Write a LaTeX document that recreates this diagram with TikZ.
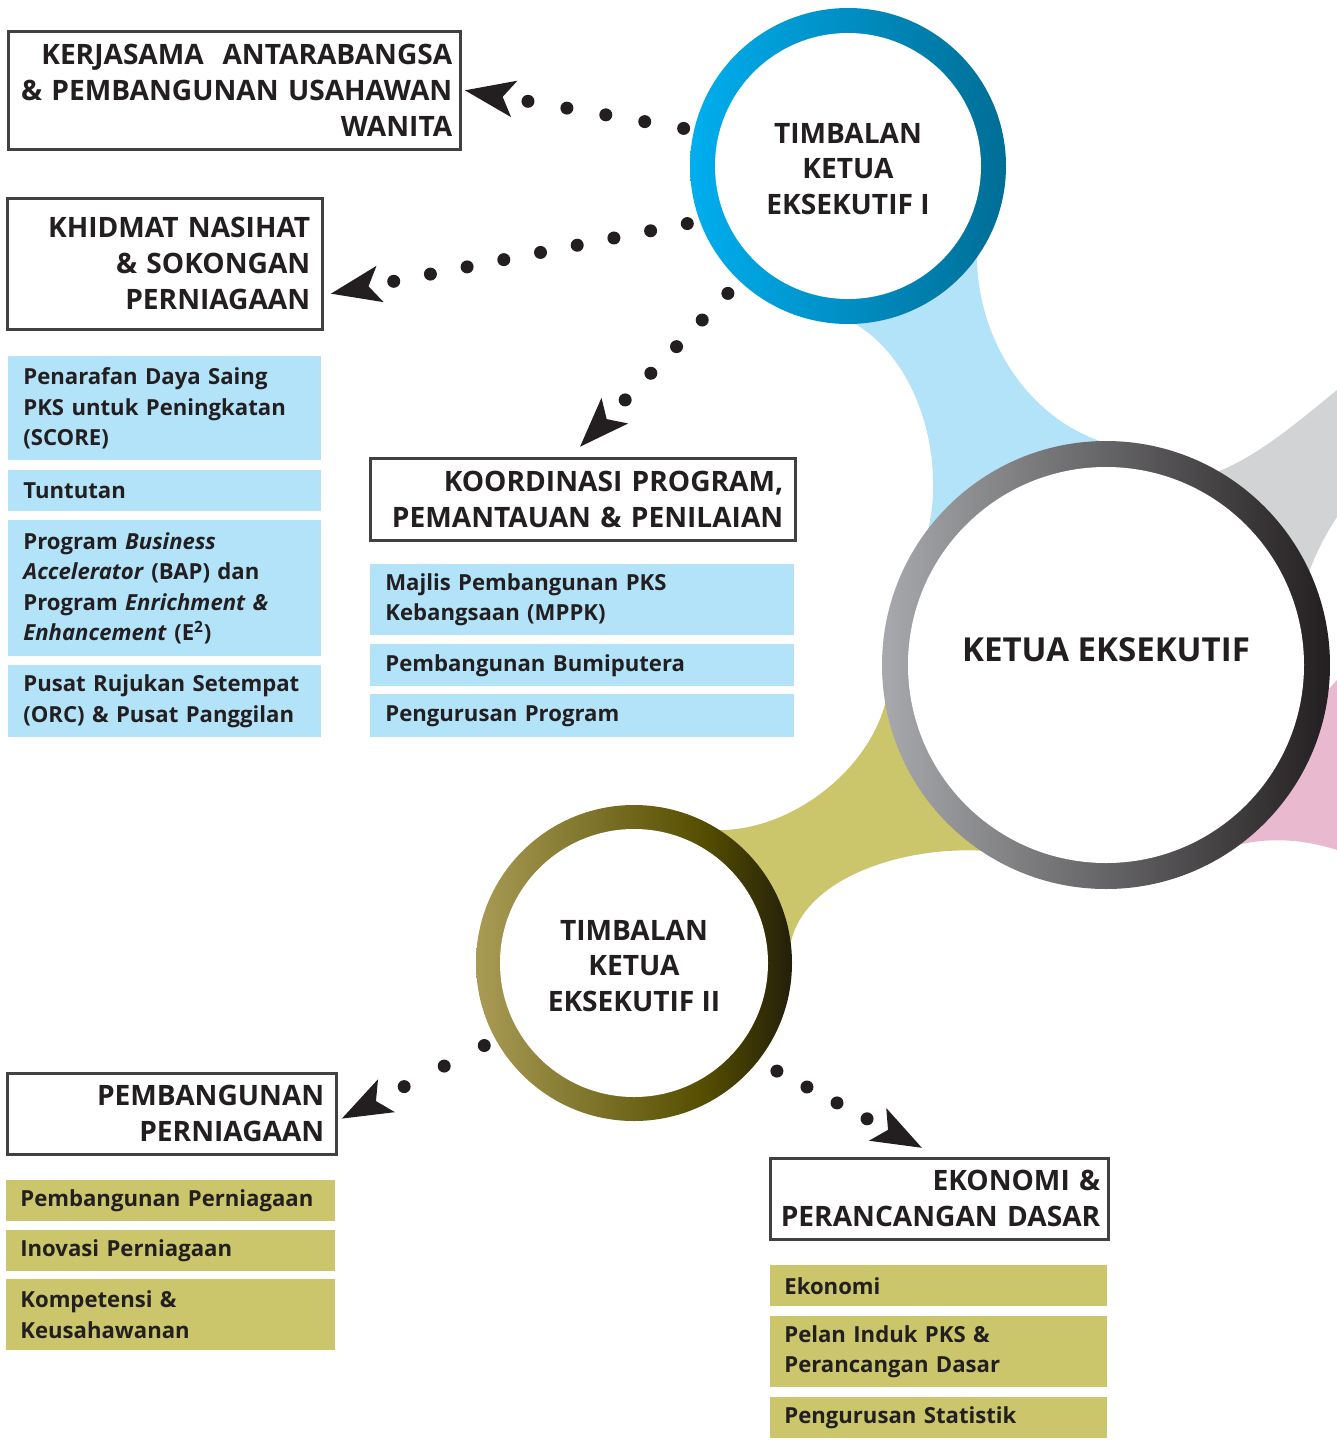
\documentclass[tikz,border=0pt]{standalone}
\usepackage{fontspec}
\setmainfont{Open Sans}
\usetikzlibrary{arrows.meta}
\usepackage{xcolor}

\definecolor{ink}{HTML}{231F20}
\definecolor{boxline}{HTML}{414042}
\definecolor{itemblue}{HTML}{B3E3F9}
\definecolor{itemolive}{HTML}{CBC66B}
\definecolor{blobgrey}{HTML}{D1D3D4}
\definecolor{blobpink}{HTML}{E8B9CF}
\definecolor{tkeA}{HTML}{00AEEF}
\definecolor{tkeB}{HTML}{006E96}
\definecolor{keA}{HTML}{A7A9AC}
\definecolor{keB}{HTML}{231F20}
\definecolor{olvA}{HTML}{A99B55}
\definecolor{olvB}{HTML}{554E00}
\definecolor{olvC}{HTML}{231F0A}

\newlength{\upx}
\setlength{\upx}{0.02cm}
\newcommand{\headfont}{\bfseries\fontsize{16}{20.4}\selectfont}
\newcommand{\itemfont}{\bfseries\fontsize{12.6}{17.3}\selectfont}
\newcommand{\kefont}{\bfseries\fontsize{18.8}{25}\selectfont}

\pgfdeclarehorizontalshading{olivering}{100bp}{color(0bp)=(olvA); color(25bp)=(olvA); color(61bp)=(olvB); color(75bp)=(olvC); color(100bp)=(olvC)}

\begin{document}
\begin{tikzpicture}[x=0.02cm, y=-0.02cm,
  headbox/.style={draw=boxline, line width=2.5\upx, fill=white, anchor=north west, align=right, font=\headfont, text=ink, inner xsep=12\upx, inner ysep=0pt},
  bluebox/.style={fill=itemblue, anchor=north west, align=left, font=\itemfont, text=ink, inner xsep=15\upx, inner ysep=0pt},
  olivebox/.style={bluebox, fill=itemolive, inner xsep=14\upx},
  ringtext/.style={circle, minimum size=328\upx, align=center, font=\headfont, text=ink, inner sep=0pt},
  dotarrow/.style 2 args={ink, line width=13\upx, line cap=round, dash pattern=on 0pt off #1\upx, dash phase=#2\upx, {Stealth[length=28pt, width=20pt, inset=6pt]}-}]
  \useasboundingbox (0,0) rectangle (1337,1441);

  % connecting blobs
  \fill[itemblue] (852,322) .. controls (920,360) and (945,460) .. (928,530) -- (1000,560) -- (1106,443) .. controls (1030,420) and (975,340) .. (977,250) -- (900,240) -- cycle;
  \fill[blobgrey] (1217,472) .. controls (1260,455) and (1300,420) .. (1337,390) -- (1337,517) .. controls (1325,535) and (1315,555) .. (1308,575) -- (1200,600) -- cycle;
  \fill[blobpink] (1328,690) -- (1337,680) -- (1337,850) .. controls (1300,838) and (1265,838) .. (1238,845) -- (1200,760) -- cycle;
  \fill[itemolive] (716,830) .. controls (790,832) and (870,770) .. (886,700) -- (1000,700) -- (987,851) .. controls (900,845) and (800,880) .. (790,947) -- (700,900) -- cycle;

  % rings
  \shade[left color=tkeA, right color=tkeB] (848,166) circle (158);
  \fill[white] (848,166) circle (133);
  \shade[left color=keA, right color=keB] (1106,665) circle (224);
  \fill[white] (1106,665) circle (198);
  \shade[shading=olivering] (634,963) circle (158);
  \fill[white] (634,963) circle (134);

  \node[ringtext] (tkeI) at (848,169) {TIMBALAN\\KETUA\\EKSEKUTIF I};
  \node[ringtext, minimum size=460\upx, font=\kefont] (ke) at (1106,650) {KETUA EKSEKUTIF};
  \node[ringtext] (tkeII) at (634,966) {TIMBALAN\\KETUA\\EKSEKUTIF II};

  % headings
  \node[headbox, text width=436\upx, inner xsep=8\upx, minimum height=118\upx] (kerja) at (7,30) {KERJASAMA\ \ ANTARABANGSA\\\& PEMBANGUNAN USAHAWAN\\WANITA};
  \node[headbox, text width=291\upx, minimum height=131\upx] (khidmat) at (6,197) {KHIDMAT NASIHAT\\\& SOKONGAN\\PERNIAGAAN};
  \node[headbox, text width=401\upx, minimum height=82\upx] (koord) at (369,457) {KOORDINASI PROGRAM,\\PEMANTAUAN \& PENILAIAN};
  \node[headbox, text width=305\upx, minimum height=81\upx] (pemb) at (6,1072) {PEMBANGUNAN\\PERNIAGAAN};
  \node[headbox, text width=322\upx, inner xsep=8\upx, minimum height=81\upx] (ekon) at (769,1157) {EKONOMI \&\\PERANCANGAN DASAR};

  % units
  \node[bluebox, text width=283\upx, minimum height=104\upx] (score) at (8,356) {Penarafan Daya Saing\\PKS untuk Peningkatan\\(SCORE)};
  \node[bluebox, text width=283\upx, minimum height=41\upx] (tuntut) at (8,470) {Tuntutan};
  \node[bluebox, text width=283\upx, minimum height=136\upx] (bap) at (8,520) {Program \textit{Business}\\\textit{Accelerator} (BAP) dan\\Program \textit{Enrichment \&}\\\textit{Enhancement} (E\textsuperscript{2})};
  \node[bluebox, text width=283\upx, minimum height=72\upx] (orc) at (8,665) {Pusat Rujukan Setempat\\(ORC) \& Pusat Panggilan};

  \node[bluebox, text width=394\upx, minimum height=71\upx] (mppk) at (370,564) {Majlis Pembangunan PKS\\Kebangsaan (MPPK)};
  \node[bluebox, text width=394\upx, minimum height=42\upx] (bumi) at (370,644) {Pembangunan Bumiputera};
  \node[bluebox, text width=394\upx, minimum height=43\upx] (prog) at (370,694) {Pengurusan Program};

  \node[olivebox, text width=301\upx, minimum height=41\upx] (pniaga) at (6,1180) {Pembangunan Perniagaan};
  \node[olivebox, text width=301\upx, minimum height=41\upx] (inov) at (6,1230) {Inovasi Perniagaan};
  \node[olivebox, text width=301\upx, minimum height=71\upx] (komp) at (6,1279) {Kompetensi \&\\Keusahawanan};

  \node[olivebox, text width=309\upx, minimum height=41\upx] (eko) at (770,1265) {Ekonomi};
  \node[olivebox, text width=309\upx, minimum height=71\upx] (pelan) at (770,1316) {Pelan Induk PKS \&\\Perancangan Dasar};
  \node[olivebox, text width=309\upx, minimum height=41\upx] (stat) at (770,1397) {Pengurusan Statistik};

  % dotted links, drawn from the heading back to the ring
  \draw[dotarrow={39.5}{10.5}] ([xshift=3\upx]kerja.east) -- (tkeI.166);
  \draw[dotarrow={37.4}{8.4}] ([xshift=7\upx, yshift=-30\upx]khidmat.east) -- (tkeI.199);
  \draw[dotarrow={37}{7}] ([xshift=-3\upx, yshift=10\upx]koord.north) -- (tkeI.226);
  \draw[dotarrow={45}{10}] ([xshift=4\upx, yshift=-5\upx]pemb.east) -- (tkeII.208);
  \draw[dotarrow={34}{7}] ([xshift=-17\upx, yshift=9\upx]ekon.north) -- (tkeII.-37);
\end{tikzpicture}
\end{document}
